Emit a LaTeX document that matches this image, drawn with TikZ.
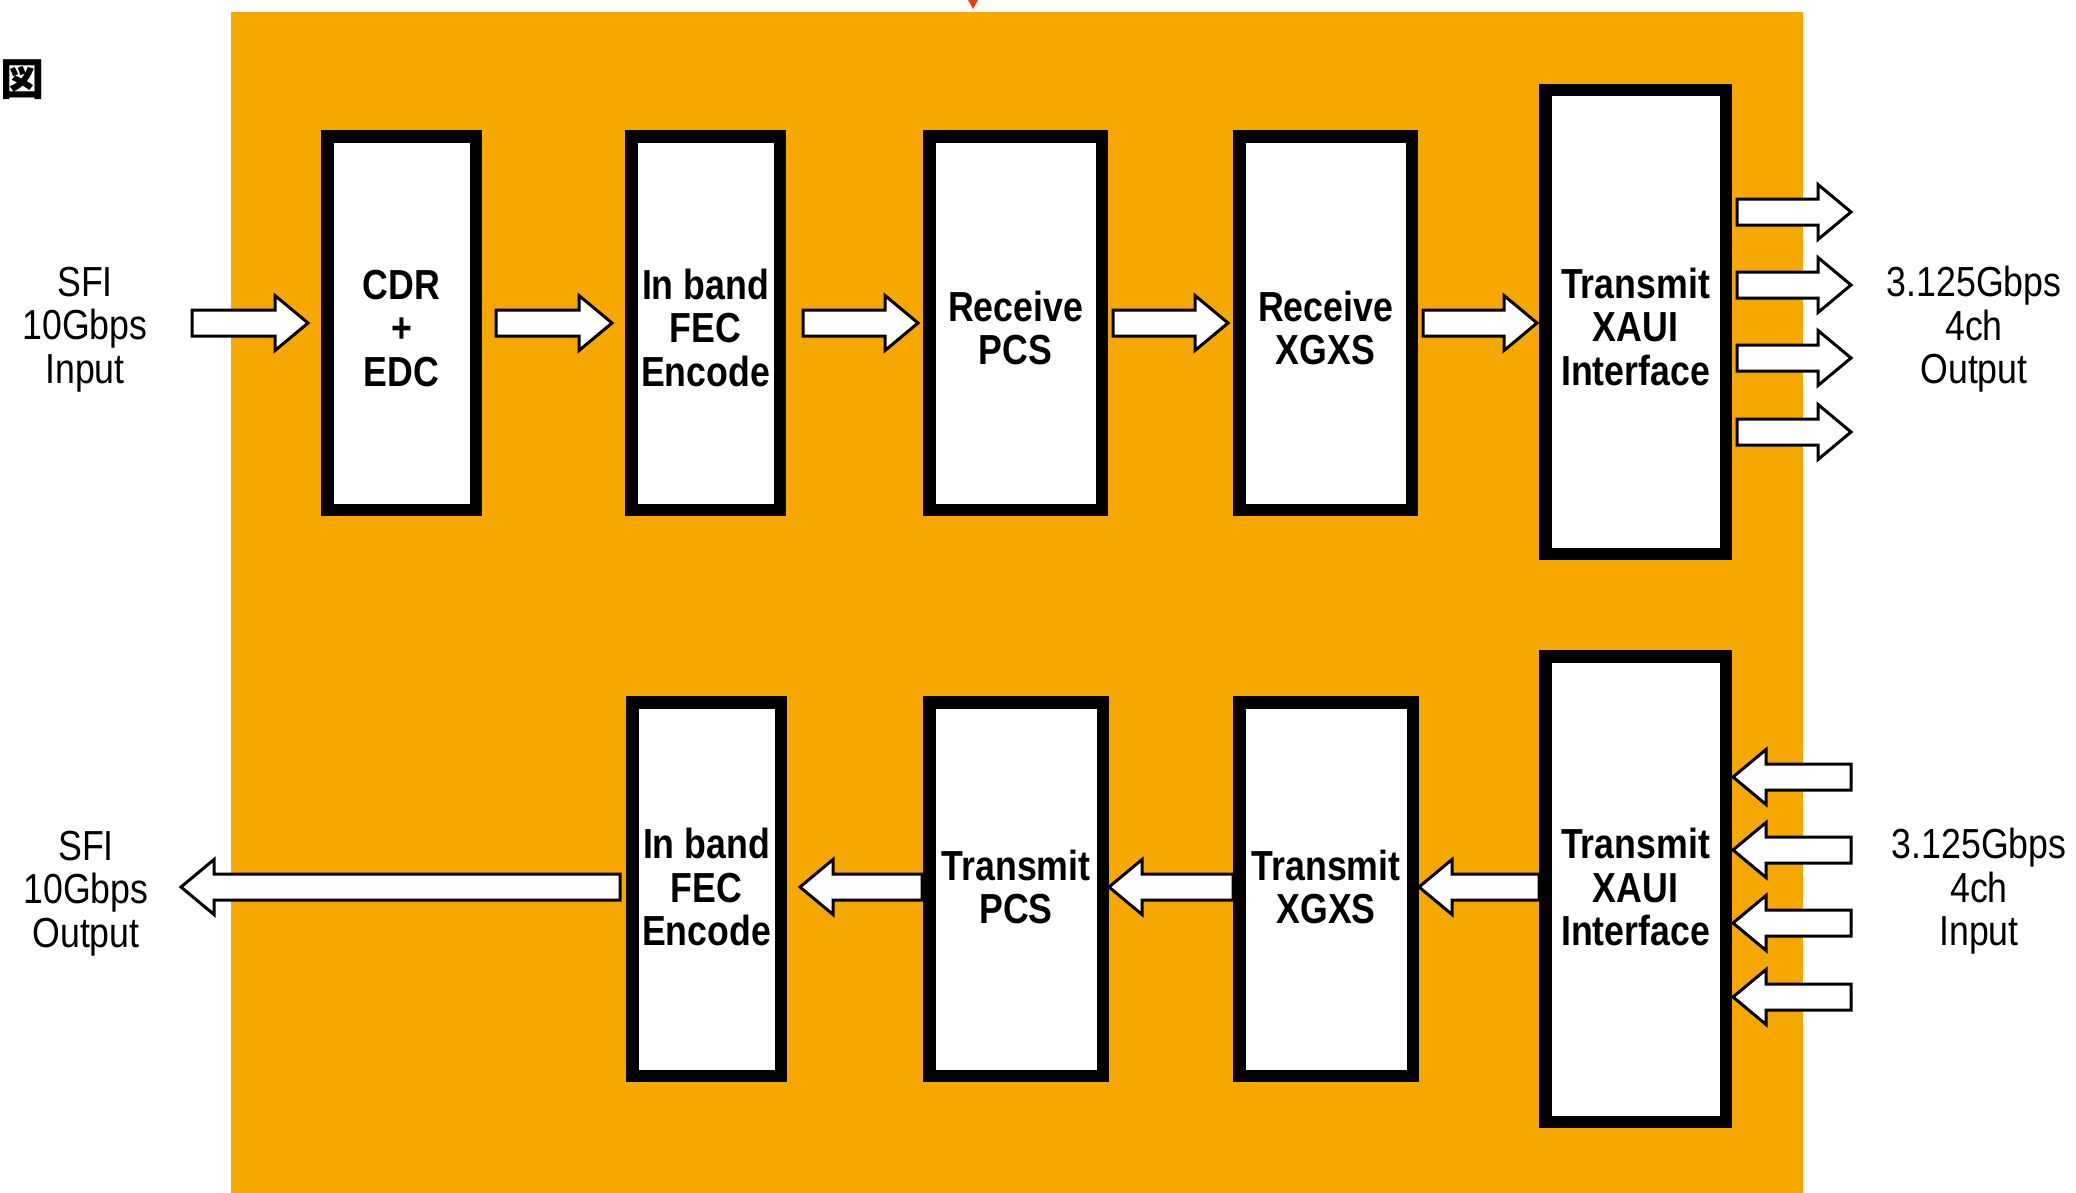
\documentclass[tikz,border=0pt]{standalone}
\usepackage{fontspec}
\usetikzlibrary{calc}
\newfontfamily\condfont{Liberation Sans}[FakeStretch=0.85]
\newfontfamily\cjkfont{Noto Sans CJK JP}
\definecolor{panel}{RGB}{247,168,0}
\definecolor{marker}{RGB}{240,60,30}

% taller first line, which lowers the text block inside a box
\newcommand\capstrut{\rule{0pt}{20pt}}

% hollow block arrow from a tail point to a tip point on the same horizontal line
\newcommand\blockarr[2]{%
  \draw[hollowarrow] let \p1=(#1), \p2=(#2), \n1={sign(\x2-\x1)} in
    (\x1,\y1+6.5pt) -- (\x2-\n1*16.5pt,\y1+6.5pt) -- (\x2-\n1*16.5pt,\y1+13.75pt)
    -- (\x2,\y1) -- (\x2-\n1*16.5pt,\y1-13.75pt) -- (\x2-\n1*16.5pt,\y1-6.5pt)
    -- (\x1,\y1-6.5pt) -- cycle;}

\begin{document}
\begin{tikzpicture}[x=0.5pt,y=-0.5pt,
  block/.style n args={2}{draw=black, fill=white, line width=6.25pt,
    outer sep=3.125pt, inner sep=0pt, align=center,
    minimum width=#1*0.5pt-6.25pt, minimum height=#2*0.5pt-6.25pt,
    font=\condfont\bfseries\fontsize{21pt}{21.75pt}\selectfont},
  bottomrow/.style={text depth=2pt},
  iolabel/.style={align=center, inner sep=0pt, text depth=0pt,
    font=\condfont\fontsize{21pt}{21.75pt}\selectfont},
  hollowarrow/.style={draw=black, fill=white, line width=1.5pt, line join=miter}]

\useasboundingbox (0,0) rectangle (2076,1193);

% background panel and small marker
\fill[panel] (231,12) rectangle (1803,1193);
\fill[marker] (967,-2) -- (979,-2) -- (973,9) -- cycle;
\node[inner sep=0pt, font=\cjkfont\bfseries\fontsize{22pt}{22pt}\selectfont] (fig) at (22,80) {図};

% receive path (top row)
\node[block={161}{386}] (cdr)  at (401.5,323)  {\capstrut CDR\\+\\EDC};
\node[block={161}{386}] (fec1) at (705.5,323)  {\capstrut In band\\FEC\\Encode};
\node[block={185}{386}] (rpcs) at (1015.5,323) {\capstrut Receive\\PCS};
\node[block={185}{386}] (rxg)  at (1325.5,323) {\capstrut Receive\\XGXS};
\node[block={193}{476}] (txa)  at (1635.5,322) {\capstrut Transmit\\XAUI\\Interface};

% transmit path (bottom row)
\node[block={161}{386}, bottomrow] (fec2) at (706.5,889)  {In band\\FEC\\Encode};
\node[block={186}{386}, bottomrow] (tpcs) at (1016,889)   {Transmit\\PCS};
\node[block={186}{386}, bottomrow] (txg)  at (1326,889)   {Transmit\\XGXS};
\node[block={193}{478}, bottomrow] (txb)  at (1635.5,889) {Transmit\\XAUI\\Interface};

% external labels
\node[iolabel] (sfiinlbl)  at (85,325)   {SFI\\10Gbps\\Input};
\node[iolabel] (sfioutlbl) at (86,889)   {SFI\\10Gbps\\Output};
\node[iolabel] (xauioutlbl) at (1974,325) {3.125Gbps\\4ch\\Output};
\node[iolabel] (xauiinlbl)  at (1979,887) {3.125Gbps\\4ch\\Input};

\coordinate (sfiin)  at (192,323);
\coordinate (sfiout) at (181,887);

% top row arrows
\blockarr{sfiin}{$(cdr.west)+(-13,0)$}
\blockarr{$(cdr.east)+(14,0)$}{$(fec1.west)+(-13,0)$}
\blockarr{$(fec1.east)+(17,0)$}{$(rpcs.west)+(-5,0)$}
\blockarr{$(rpcs.east)+(5,0)$}{$(rxg.west)+(-5,0)$}
\blockarr{$(rxg.east)+(5,0)$}{$(txa.west)+(-2,0)$}
\foreach \dy in {-110,-37,36,110}
  \blockarr{$(txa.east)+(5,\dy)$}{$(txa.east)+(119,\dy)$};

% bottom row arrows
\blockarr{$(txb.west)+(0,-2)$}{$(txg.east)+(0,-2)$}
\blockarr{$(txg.west)+(0,-2)$}{$(tpcs.east)+(0,-2)$}
\blockarr{$(tpcs.west)+(-1,-2)$}{$(fec2.east)+(13,-2)$}
\blockarr{$(fec2.west)+(-6,-2)$}{sfiout}
\foreach \dy in {-112,-39,34,108}
  \blockarr{$(txb.east)+(119,\dy)$}{$(txb.east)+(1,\dy)$};

% redraw the block outlines over the arrow ends
\foreach \n in {cdr,fec1,rpcs,rxg,txa,fec2,tpcs,txg,txb}
  \draw[line width=6.25pt] (\n.south west) ++(3.125pt,3.125pt) rectangle ($(\n.north east)+(-3.125pt,-3.125pt)$);
\end{tikzpicture}
\end{document}
